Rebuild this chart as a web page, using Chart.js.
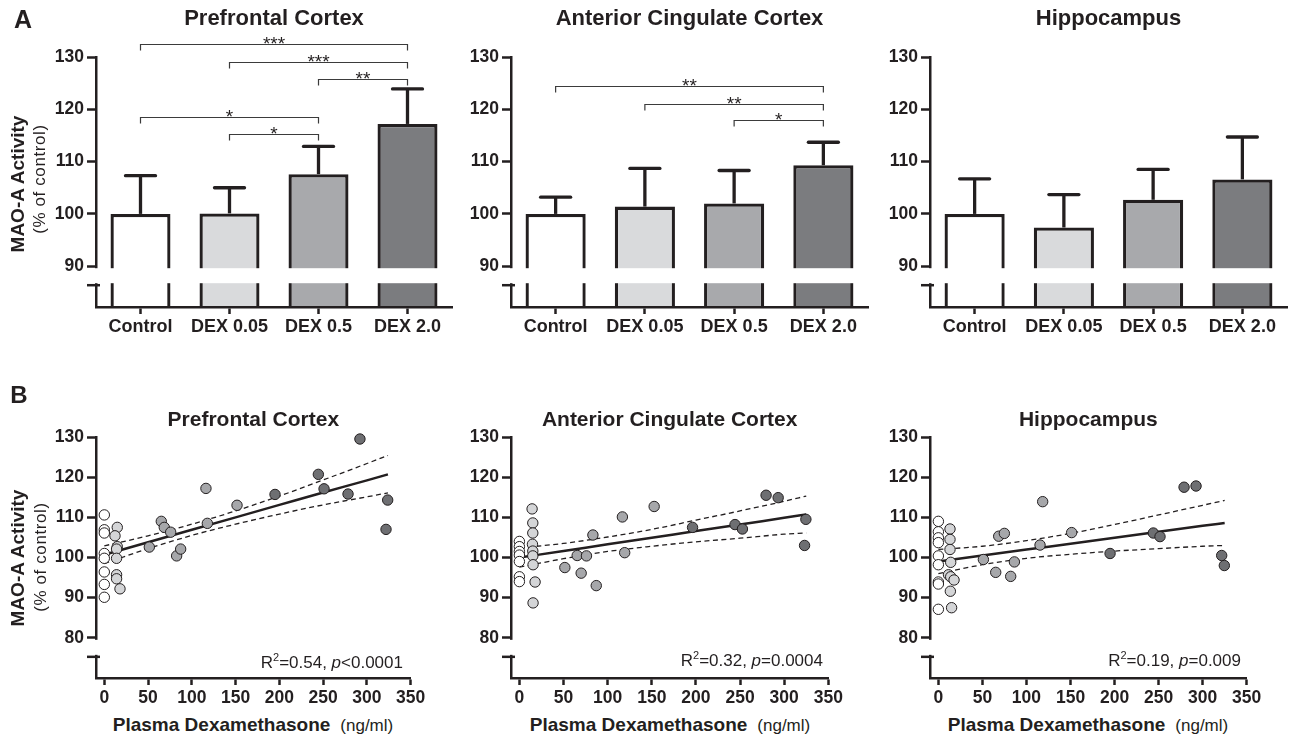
<!DOCTYPE html>
<html>
<head>
<meta charset="utf-8">
<title>MAO-A activity and dexamethasone</title>
<script src="https://cdn.jsdelivr.net/npm/chart.js@4.4.1/dist/chart.umd.min.js"></script>
<style>
  html, body { margin: 0; padding: 0; background: #fff; }
  body { position: relative; width: 1290px; height: 740px; overflow: hidden;
         font-family: "Liberation Sans", Arial, Helvetica, sans-serif; color: #231f20; }
  .panel { position: absolute; }
  .txt { position: absolute; white-space: nowrap; line-height: 1; transform: translate(-50%, -50%); }
  .rot { transform: translate(-50%, -50%) rotate(-90deg); }
  .right { transform: translate(-100%, -50%); }
  .b { font-weight: bold; }
  .sup { font-size: 11px; position: relative; top: -7px; }
</style>
</head>
<body>

<div class="panel" style="left:0;top:0"><canvas id="barPfc" width="460" height="345"></canvas></div>
<div class="panel" style="left:460px;top:0"><canvas id="barAcc" width="415" height="345"></canvas></div>
<div class="panel" style="left:875px;top:0"><canvas id="barHip" width="415" height="345"></canvas></div>

<div class="panel" style="left:0;top:380px"><canvas id="dotPfc" width="430" height="330"></canvas></div>
<div class="panel" style="left:460px;top:380px"><canvas id="dotAcc" width="390" height="330"></canvas></div>
<div class="panel" style="left:875px;top:380px"><canvas id="dotHip" width="415" height="330"></canvas></div>

<div class="txt b" style="left:23px;top:19px;font-size:25px">A</div>
<div class="txt b" style="left:19px;top:395px;font-size:24px">B</div>

<div class="txt b rot" style="left:17px;top:184px;font-size:19px">MAO-A Activity</div>
<div class="txt rot" style="left:39px;top:179px;font-size:17px;letter-spacing:0.6px">(% of control)</div>
<div class="txt b rot" style="left:17px;top:558px;font-size:19px">MAO-A Activity</div>
<div class="txt rot" style="left:40px;top:557px;font-size:17px;letter-spacing:0.6px">(% of control)</div>

<div class="txt" style="left:253px;top:724px"><span class="b" style="font-size:19px">Plasma Dexamethasone</span><span style="font-size:17px;margin-left:10px">(ng/ml)</span></div>
<div class="txt" style="left:670px;top:724px"><span class="b" style="font-size:19px">Plasma Dexamethasone</span><span style="font-size:17px;margin-left:10px">(ng/ml)</span></div>
<div class="txt" style="left:1088px;top:724px"><span class="b" style="font-size:19px">Plasma Dexamethasone</span><span style="font-size:17px;margin-left:10px">(ng/ml)</span></div>

<div class="txt right" style="left:403px;top:662px;font-size:17px">R<span class="sup">2</span>=0.54, <i>p</i>&lt;0.0001</div>
<div class="txt right" style="left:823px;top:660px;font-size:17px">R<span class="sup">2</span>=0.32, <i>p</i>=0.0004</div>
<div class="txt right" style="left:1241px;top:660px;font-size:17px">R<span class="sup">2</span>=0.19, <i>p</i>=0.009</div>

<script>
const ink = '#231f20';
const fontFamily = '"Liberation Sans", Arial, Helvetica, sans-serif';

// ---- A: group means (% of control) with SEM ----
const groups = ['Control', 'DEX 0.05', 'DEX 0.5', 'DEX 2.0'];
const groupFill = ['#ffffff', '#d9dadc', '#a8a9ac', '#7b7c7f'];
const barTicks = [90, 100, 110, 120, 130];

const pfcMean = [100, 100.1, 107.6, 117.2];
const pfcSem = [7.3, 4.9, 5.3, 6.7];
const accMean = [100, 101.4, 102.0, 109.3];
const accSem = [3.2, 7.3, 6.3, 4.4];
const hipMean = [100, 97.4, 102.7, 106.6];
const hipSem = [6.7, 6.3, 5.8, 8.1];

// significance brackets: [from group, to group, level, stars]
const pfcSig = [[0, 3, 132.4, '***'], [1, 3, 129.0, '***'], [2, 3, 125.8, '**'], [0, 2, 118.5, '*'], [1, 2, 115.3, '*']];
const accSig = [[0, 3, 124.4, '**'], [1, 3, 121.1, '**'], [2, 3, 118.0, '*']];
const hipSig = [];

// ---- B: individual animals, plasma dexamethasone vs MAO-A ----
const doseTicks = [0, 50, 100, 150, 200, 250, 300, 350];
const dotTicks = [80, 90, 100, 110, 120, 130];
const dotFill = ['#ffffff', '#d4d5d7', '#a6a7aa', '#6e6f72'];

const pfcCtrlX = [0, 0, 0, 0, 0, 0, 0, 0];
const pfcCtrlY = [110.6, 106.9, 106.1, 101.0, 99.8, 96.4, 93.3, 90.1];
const pfcLowX = [14.8, 12.2, 14.8, 14.0, 14.0, 14.0, 14.0, 17.9];
const pfcLowY = [107.5, 105.4, 102.7, 102.1, 99.8, 95.7, 94.7, 92.2];
const pfcMidX = [51.4, 65.1, 68.5, 75.8, 82.6, 87.2, 116.1, 117.7, 151.6];
const pfcMidY = [102.6, 109.0, 107.5, 106.3, 100.4, 102.1, 117.2, 108.5, 113.0];
const pfcHighX = [195.0, 244.5, 251.0, 278.4, 292.0, 323.7, 321.8];
const pfcHighY = [115.7, 120.7, 117.1, 115.8, 129.5, 114.3, 107.0];
const pfcFitX = [0, 50, 100, 150, 200, 250, 300, 324];
const pfcFit = [100.7, 103.8, 106.9, 110.0, 113.1, 116.2, 119.2, 120.7];
const pfcUpper = [102.9, 105.4, 108.3, 111.6, 115.3, 119.3, 123.4, 125.4];
const pfcLower = [98.5, 102.2, 105.5, 108.3, 110.8, 113.1, 115.1, 116.1];

const accCtrlX = [0, 0, 0, 0, 0, 0, 0];
const accCtrlY = [104.0, 102.7, 101.5, 100.6, 99.0, 95.2, 94.0];
const accLowX = [14.4, 15.2, 15.2, 14.8, 15.2, 15.2, 15.5, 17.8, 15.5];
const accLowY = [112.1, 108.6, 106.1, 103.3, 101.6, 100.4, 98.2, 93.9, 88.7];
const accMidX = [51.5, 65.5, 70.0, 76.0, 83.3, 87.1, 116.7, 119.3, 152.7];
const accMidY = [97.5, 100.5, 96.1, 100.4, 105.6, 93.0, 110.1, 101.2, 112.7];
const accHighX = [196.2, 244.3, 252.7, 279.5, 293.2, 324.6, 323.1];
const accHighY = [107.5, 108.2, 107.1, 115.5, 114.9, 109.5, 103.0];
const accFitX = [0, 50, 100, 150, 200, 250, 300, 325];
const accFit = [100.0, 101.6, 103.3, 104.9, 106.6, 108.2, 109.9, 110.7];
const accUpper = [102.4, 103.5, 105.1, 107.0, 109.3, 111.6, 114.0, 115.3];
const accLower = [97.6, 99.7, 101.5, 102.8, 103.9, 104.8, 105.8, 106.1];

const hipCtrlX = [0, 0, 0, 0, 0, 0, 0, 0, 0];
const hipCtrlY = [109.0, 106.4, 104.9, 103.7, 100.4, 98.2, 93.9, 93.4, 87.1];
const hipLowX = [13.2, 13.2, 13.2, 14.0, 11.5, 14.0, 17.8, 13.6, 15.0];
const hipLowY = [107.1, 104.5, 102.0, 98.8, 95.7, 95.2, 94.4, 91.6, 87.5];
const hipMidX = [51.1, 65.1, 68.5, 74.9, 82.1, 86.3, 115.4, 118.4, 151.3];
const hipMidY = [99.5, 96.3, 105.3, 106.0, 95.3, 98.9, 103.1, 113.9, 106.2];
const hipHighX = [194.9, 244.0, 251.6, 278.9, 292.5, 321.6, 324.6];
const hipHighY = [101.0, 106.1, 105.2, 117.5, 117.8, 100.5, 98.0];
const hipFitX = [0, 50, 100, 150, 200, 250, 300, 325];
const hipFit = [99.0, 100.5, 102.0, 103.4, 104.9, 106.4, 107.9, 108.6];
const hipUpper = [102.0, 102.8, 104.2, 106.0, 108.2, 110.6, 113.0, 114.2];
const hipLower = [96.0, 98.2, 99.8, 100.8, 101.6, 102.2, 102.8, 103.0];

Chart.defaults.font.family = fontFamily;
Chart.defaults.color = ink;

// SEM whiskers (upper half only) and significance brackets
function barExtras(sems, sigs) {
    return {
        id: 'barExtras',
        afterDatasetsDraw(chart) {
            const { ctx, scales: { x, y } } = chart;
            const means = chart.data.datasets[0].data;
            ctx.save();
            ctx.strokeStyle = ink;
            means.forEach((m, i) => {
                const cx = x.getPixelForValue(i);
                const y0 = y.getPixelForValue(m);
                const y1 = y.getPixelForValue(m + sems[i]);
                ctx.lineWidth = 3.3;
                ctx.lineCap = 'butt';
                ctx.beginPath(); ctx.moveTo(cx, y0); ctx.lineTo(cx, y1); ctx.stroke();
                ctx.lineCap = 'round';
                ctx.beginPath(); ctx.moveTo(cx - 15, y1); ctx.lineTo(cx + 15, y1); ctx.stroke();
            });

            ctx.lineWidth = 1.2;
            ctx.lineCap = 'butt';
            ctx.strokeStyle = '#3b3b3b';
            ctx.fillStyle = ink;
            ctx.textAlign = 'center';
            ctx.textBaseline = 'alphabetic';
            ctx.font = '19px ' + fontFamily;
            sigs.forEach(([a, b, level, stars]) => {
                const xa = x.getPixelForValue(a);
                const xb = x.getPixelForValue(b);
                const ly = Math.round(y.getPixelForValue(level)) + 0.5;
                ctx.beginPath();
                ctx.moveTo(xa, ly + 6); ctx.lineTo(xa, ly); ctx.lineTo(xb, ly); ctx.lineTo(xb, ly + 6);
                ctx.stroke();
                ctx.fillText(stars, (xa + xb) / 2, ly + 5);
            });
            ctx.restore();
        }
    };
}

// white gap below the lowest labelled tick, plus the stub of the lower axis piece
function axisBreak(at) {
    return {
        id: 'axisBreak',
        afterDraw(chart) {
            const { ctx, chartArea: a, scales: { y } } = chart;
            const py = y.getPixelForValue(at);
            ctx.save();
            ctx.fillStyle = '#fff';
            ctx.fillRect(a.left - 3, py + 2, a.right - a.left + 6, 15);
            ctx.strokeStyle = ink;
            ctx.lineWidth = 2.5;
            ctx.beginPath(); ctx.moveTo(a.left - 9, py + 19); ctx.lineTo(a.left + 4, py + 19); ctx.stroke();
            ctx.restore();
        }
    };
}

function tickFont(size) {
    return { family: fontFamily, size: size, weight: 'bold' };
}

function barChart(id, title, means, sems, sigs, yWidth, padRight) {
    return new Chart(document.getElementById(id), {
        type: 'bar',
        data: {
            labels: groups,
            datasets: [{
                data: means,
                backgroundColor: groupFill,
                borderColor: ink,
                borderWidth: 3.3,
                barPercentage: 0.674,
                categoryPercentage: 1
            }]
        },
        options: {
            responsive: false,
            animation: false,
            events: [],
            layout: { padding: { right: padRight } },
            plugins: {
                legend: { display: false },
                tooltip: { enabled: false },
                title: {
                    display: true, text: title, fullSize: false, color: ink,
                    font: tickFont(22),
                    padding: { top: 6, bottom: 24.6 }
                }
            },
            scales: {
                x: {
                    grid: { offset: false, drawOnChartArea: false, tickLength: 7, tickWidth: 2.5, tickColor: ink },
                    border: { color: ink, width: 2.5, z: 1 },
                    ticks: { color: ink, padding: 2, maxRotation: 0, autoSkip: false, font: tickFont(18) },
                    afterFit: s => { s.height = 38; }
                },
                y: {
                    min: 82.2,
                    max: 130,
                    afterBuildTicks: s => { s.ticks = barTicks.map(v => ({ value: v })); },
                    grid: { drawOnChartArea: false, tickLength: 9, tickWidth: 2.5, tickColor: ink },
                    border: { color: ink, width: 2.5, z: 1 },
                    ticks: { color: ink, padding: 3, font: tickFont(17.5) },
                    afterFit: s => { s.width = yWidth; }
                }
            }
        },
        plugins: [barExtras(sems, sigs), axisBreak(90)]
    });
}

function points(xs, ys, fill) {
    return {
        data: ys.map((v, i) => ({ x: xs[i], y: v })),
        backgroundColor: fill,
        borderColor: ink,
        borderWidth: 1,
        pointRadius: 5.2,
        clip: false,
        order: 0
    };
}

function curve(xs, ys, dashed) {
    return {
        data: ys.map((v, i) => ({ x: xs[i], y: v })),
        showLine: true,
        pointRadius: 0,
        borderColor: ink,
        borderWidth: dashed ? 1.3 : 2.5,
        borderDash: dashed ? [5, 3.5] : [],
        cubicInterpolationMode: 'monotone',
        fill: false,
        order: 1
    };
}

function dotChart(id, title, sets, yWidth, padRight) {
    return new Chart(document.getElementById(id), {
        type: 'scatter',
        data: { datasets: sets },
        options: {
            responsive: false,
            animation: false,
            events: [],
            layout: { padding: { right: padRight } },
            plugins: {
                legend: { display: false },
                tooltip: { enabled: false },
                title: {
                    display: true, text: title, fullSize: false, color: ink,
                    font: tickFont(21),
                    padding: { top: 27.4, bottom: 4.4 }
                }
            },
            scales: {
                x: {
                    type: 'linear',
                    min: -9.5,
                    max: 350,
                    afterBuildTicks: s => { s.ticks = doseTicks.map(v => ({ value: v })); },
                    grid: { drawOnChartArea: false, tickLength: 7, tickWidth: 2.5, tickColor: ink },
                    border: { color: ink, width: 2.5, z: 1 },
                    ticks: { color: ink, padding: 3, maxRotation: 0, autoSkip: false, font: tickFont(17.5) },
                    afterFit: s => { s.height = 32; }
                },
                y: {
                    min: 70,
                    max: 130,
                    afterBuildTicks: s => { s.ticks = dotTicks.map(v => ({ value: v })); },
                    grid: { drawOnChartArea: false, tickLength: 9, tickWidth: 2.5, tickColor: ink },
                    border: { color: ink, width: 2.5, z: 1 },
                    ticks: { color: ink, padding: 3, font: tickFont(17.5) },
                    afterFit: s => { s.width = yWidth; }
                }
            }
        },
        plugins: [axisBreak(80)]
    });
}

barChart('barPfc', 'Prefrontal Cortex', pfcMean, pfcSem, pfcSig, 96, 8);
barChart('barAcc', 'Anterior Cingulate Cortex', accMean, accSem, accSig, 51, 7);
barChart('barHip', 'Hippocampus', hipMean, hipSem, hipSig, 55, 3);

dotChart('dotPfc', 'Prefrontal Cortex', [
    points(pfcCtrlX, pfcCtrlY, dotFill[0]),
    points(pfcLowX, pfcLowY, dotFill[1]),
    points(pfcMidX, pfcMidY, dotFill[2]),
    points(pfcHighX, pfcHighY, dotFill[3]),
    curve(pfcFitX, pfcFit, false),
    curve(pfcFitX, pfcUpper, true),
    curve(pfcFitX, pfcLower, true)
], 96, 19.3);

dotChart('dotAcc', 'Anterior Cingulate Cortex', [
    points(accCtrlX, accCtrlY, dotFill[0]),
    points(accLowX, accLowY, dotFill[1]),
    points(accMidX, accMidY, dotFill[2]),
    points(accHighX, accHighY, dotFill[3]),
    curve(accFitX, accFit, false),
    curve(accFitX, accUpper, true),
    curve(accFitX, accLower, true)
], 51, 21.7);

dotChart('dotHip', 'Hippocampus', [
    points(hipCtrlX, hipCtrlY, dotFill[0]),
    points(hipLowX, hipLowY, dotFill[1]),
    points(hipMidX, hipMidY, dotFill[2]),
    points(hipHighX, hipHighY, dotFill[3]),
    curve(hipFitX, hipFit, false),
    curve(hipFitX, hipUpper, true),
    curve(hipFitX, hipLower, true)
], 55, 43.3);
</script>
</body>
</html>
